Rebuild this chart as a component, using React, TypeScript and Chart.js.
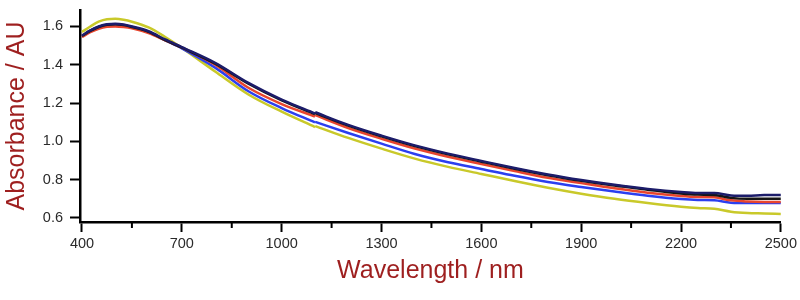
import React, { useEffect, useRef } from "react";
import { Chart, registerables } from "chart.js";

Chart.register(...registerables);

const wavelengths = [400, 425, 450, 475, 500, 525, 550, 600, 650, 700, 800, 900, 1000, 1100, 1100.5, 1101, 1200, 1300, 1400, 1500, 1600, 1700, 1800, 1900, 2000, 2100, 2200, 2250, 2300, 2350, 2400, 2450, 2500];

const navy = [1.553, 1.58, 1.6, 1.612, 1.614, 1.61, 1.6, 1.575, 1.532, 1.492, 1.41, 1.305, 1.218, 1.146, null, 1.152, 1.086, 1.03, 0.979, 0.936, 0.898, 0.861, 0.827, 0.798, 0.773, 0.752, 0.736, 0.731, 0.731, 0.718, 0.716, 0.72, 0.72];
const black = [1.55, 1.577, 1.597, 1.609, 1.611, 1.607, 1.597, 1.572, 1.529, 1.489, 1.406, 1.301, 1.214, 1.142, null, 1.148, 1.082, 1.026, 0.975, 0.932, 0.894, 0.857, 0.823, 0.794, 0.769, 0.748, 0.728, 0.722, 0.72, 0.705, 0.7, 0.7, 0.7];
const red = [1.545, 1.57, 1.588, 1.598, 1.6, 1.597, 1.59, 1.565, 1.528, 1.49, 1.4, 1.28, 1.195, 1.13, null, 1.137, 1.07, 1.014, 0.963, 0.92, 0.882, 0.845, 0.81, 0.782, 0.755, 0.732, 0.715, 0.71, 0.708, 0.692, 0.686, 0.684, 0.684];
const blue = [1.548, 1.578, 1.598, 1.608, 1.61, 1.606, 1.597, 1.57, 1.528, 1.486, 1.385, 1.262, 1.174, 1.099, null, 1.102, 1.044, 0.988, 0.934, 0.891, 0.856, 0.82, 0.788, 0.762, 0.738, 0.716, 0.699, 0.694, 0.692, 0.68, 0.678, 0.678, 0.678];
const yellow = [1.571, 1.6, 1.625, 1.638, 1.64, 1.635, 1.625, 1.595, 1.545, 1.488, 1.365, 1.245, 1.155, 1.075, null, 1.08, 1.018, 0.962, 0.91, 0.867, 0.83, 0.793, 0.758, 0.727, 0.7, 0.678, 0.659, 0.652, 0.648, 0.633, 0.626, 0.624, 0.621];

const xMajorTicks = [400, 700, 1000, 1300, 1600, 1900, 2200, 2500];
const xMinorTicks = [550, 850, 1150, 1450, 1750, 2050, 2350];
const yTicks = [0.6, 0.8, 1.0, 1.2, 1.4, 1.6];

const seriesList = [
  { name: "navy", values: navy, color: "#1c1c6a" },
  { name: "black", values: black, color: "#151515" },
  { name: "red", values: red, color: "#e8452e" },
  { name: "blue", values: blue, color: "#2b3ff0" },
  { name: "yellow", values: yellow, color: "#c9c92a" },
];

const titleColor = "#9e1f1f";
const fontFamily = "'Liberation Sans', Arial, sans-serif";
const tickFont = { family: fontFamily, size: 14.5 };

const minorTickPlugin = {
  id: "minorTicks",
  afterDraw(chart: any) {
    const ctx = chart.ctx;
    const xs = chart.scales.x;
    const bottom = chart.chartArea.bottom;
    ctx.save();
    ctx.strokeStyle = "#000";
    ctx.lineWidth = 2;
    xMinorTicks.forEach((v) => {
      const px = xs.getPixelForValue(v);
      ctx.beginPath();
      ctx.moveTo(px, bottom);
      ctx.lineTo(px, bottom + 6);
      ctx.stroke();
    });
    ctx.restore();
  },
};

export default function App() {
  const ref = useRef<HTMLCanvasElement | null>(null);
  useEffect(() => {
    if (!ref.current) return;
    const chart = new Chart(ref.current, {
      type: "line",
      data: {
        datasets: seriesList.map((s) => ({
          label: s.name,
          data: wavelengths.map((w, i) => ({ x: w, y: s.values[i] })),
          borderColor: s.color,
          borderWidth: 2.5,
          pointRadius: 0,
          fill: false,
          spanGaps: false,
          cubicInterpolationMode: "monotone" as const,
        })),
      },
      options: {
        responsive: false,
        animation: false,
        layout: { padding: { top: 10, right: 19, left: 2, bottom: 14 } },
        plugins: { legend: { display: false }, tooltip: { enabled: false } },
        scales: {
          x: {
            type: "linear",
            min: 394,
            max: 2500,
            afterBuildTicks: (scale: any) => {
              scale.ticks = xMajorTicks.map((v) => ({ value: v }));
            },
            afterFit: (scale: any) => {
              scale.height = 64;
            },
            ticks: {
              font: tickFont,
              color: "#2a2a2a",
              padding: 3,
              maxRotation: 0,
              autoSkip: false,
              callback: (v: any) => String(v),
            },
            grid: {
              display: true,
              drawOnChartArea: false,
              drawTicks: true,
              tickLength: 10,
              tickWidth: 2,
              tickColor: "#000",
            },
            border: { display: true, color: "#000", width: 2.5 },
            title: {
              display: true,
              text: "Wavelength / nm",
              color: titleColor,
              font: { family: fontFamily, size: 25 },
              padding: { top: 4, bottom: 0 },
            },
          },
          y: {
            type: "linear",
            min: 0.579,
            max: 1.686,
            afterBuildTicks: (scale: any) => {
              scale.ticks = yTicks.map((v) => ({ value: v }));
            },
            afterFit: (scale: any) => {
              scale.width = 78;
              scale.paddingTop = 0;
              scale.paddingBottom = 0;
            },
            ticks: {
              font: tickFont,
              color: "#2a2a2a",
              padding: 7,
              callback: (v: any) => Number(v).toFixed(1),
            },
            grid: {
              display: true,
              drawOnChartArea: false,
              drawTicks: true,
              tickLength: 10,
              tickWidth: 2,
              tickColor: "#000",
            },
            border: { display: true, color: "#000", width: 2.5 },
            title: {
              display: true,
              text: "Absorbance / AU",
              color: titleColor,
              font: { family: fontFamily, size: 25 },
              padding: { top: 0, bottom: 4 },
            },
          },
        },
      },
      plugins: [minorTickPlugin],
    } as any);
    return () => chart.destroy();
  }, []);
  return (
    <div style={{ position: "fixed", left: 0, top: 0, width: 800, height: 300, background: "#fff" }}>
      <canvas ref={ref} width={800} height={300} style={{ display: "block" }} />
    </div>
  );
}
